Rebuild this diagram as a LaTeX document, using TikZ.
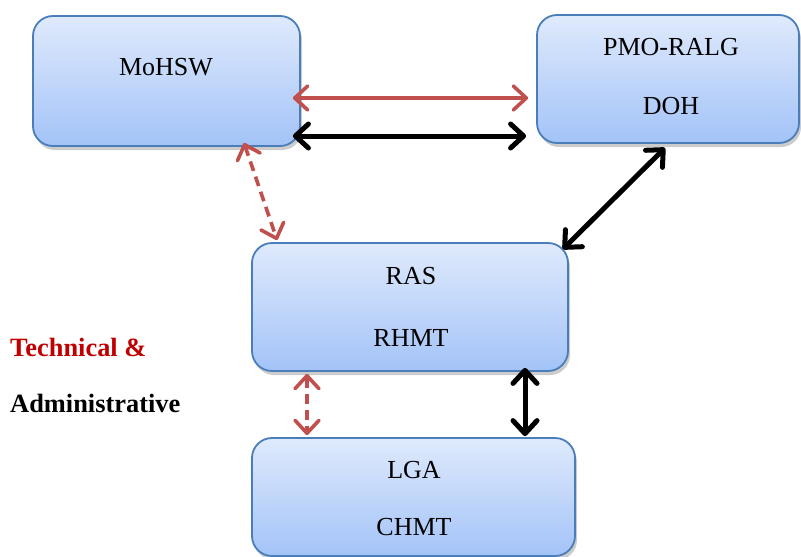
\documentclass[tikz,border=0pt]{standalone}
\usepackage{fontspec}
\setmainfont{Liberation Serif}
\usetikzlibrary{arrows.meta,shadows}
\definecolor{boxedge}{HTML}{4A7EBB}
\definecolor{boxtop}{HTML}{DFEAFC}
\definecolor{boxbot}{HTML}{A3C3F8}
\definecolor{arrred}{HTML}{C0504D}
\definecolor{labred}{HTML}{C00000}
\tikzset{
  box/.style={draw=boxedge, line width=1.8pt, rounded corners=20pt,
    top color=boxtop, bottom color=boxbot,
    drop shadow={opacity=0.4, shadow xshift=2pt, shadow yshift=-4pt},
    inner sep=0pt},
  txt/.style={font=\fontsize{26}{30}\selectfont, inner sep=0pt},
  sidelab/.style={font=\fontsize{26.4}{30}\selectfont\bfseries, inner sep=0pt, anchor=west},
  barb/.style={{Straight Barb[length=13pt,width=24pt,line cap=round,line join=round]}-{Straight Barb[length=13pt,width=24pt,line cap=round,line join=round]}},
  redlink/.style={barb, draw=arrred, line width=3.6pt},
  reddash/.style={barb, draw=arrred, line width=3.6pt, dash pattern=on 10pt off 6pt},
  blacklink/.style={barb, draw=black, line width=5pt},
}
\begin{document}
\begin{tikzpicture}[x=1pt,y=-1pt]
\useasboundingbox (0,0) rectangle (801,557);
% boxes
\node[box, minimum width=267pt, minimum height=130pt] (mohsw) at (166.5,81) {};
\node[box, minimum width=262pt, minimum height=128pt] (pmo) at (668,79) {};
\node[box, minimum width=316pt, minimum height=128pt] (ras) at (410,307) {};
\node[box, minimum width=323pt, minimum height=118pt] (lga) at (413.5,497) {};
% texts
\node[txt] (t1) at (166,67) {MoHSW};
\node[txt] (t2) at (671,47) {PMO-RALG};
\node[txt] (t3) at (671,106) {DOH};
\node[txt] (t4) at (411,276) {RAS};
\node[txt] (t5) at (411,338) {RHMT};
\node[txt] (t6) at (414,470) {LGA};
\node[txt] (t7) at (414,527) {CHMT};
\node[sidelab, text=labred] (l1) at (10,347) {Technical \&};
\node[sidelab] (l2) at (10,403) {Administrative};
% connectors
\draw[redlink] ([xshift=-8pt,yshift=-17pt]mohsw.east) -- ([xshift=-8pt,yshift=-19pt]pmo.west);
\draw[blacklink] ([xshift=-8pt,yshift=-55pt]mohsw.east) -- ([xshift=-10pt,yshift=-57pt]pmo.west);
\draw[reddash] ([xshift=77.5pt,yshift=4pt]mohsw.south) -- ([xshift=26pt,yshift=2pt]ras.north west);
\draw[blacklink] ([xshift=-3pt,yshift=-4pt]pmo.south) -- ([xshift=-6pt,yshift=-7pt]ras.north east);
\draw[reddash] ([xshift=-103pt,yshift=-2pt]ras.south) -- ([xshift=-106.5pt,yshift=2pt]lga.north);
\draw[blacklink] ([xshift=115pt,yshift=4pt]ras.south) -- ([xshift=111.5pt,yshift=1pt]lga.north);
\end{tikzpicture}
\end{document}
